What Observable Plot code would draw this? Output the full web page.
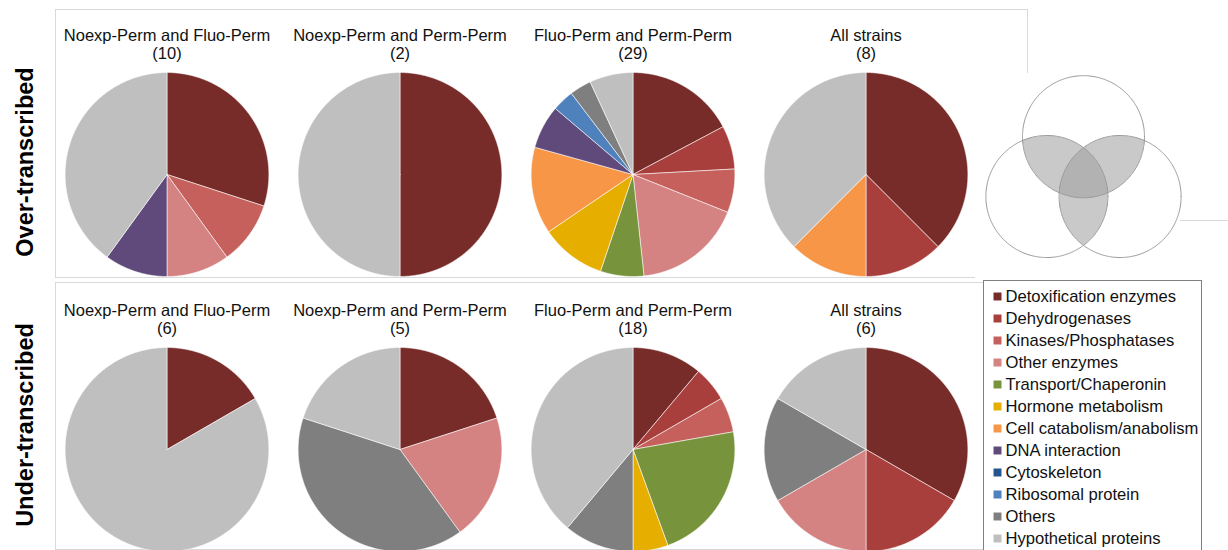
<!DOCTYPE html>
<html><head><meta charset="utf-8">
<script src="https://cdn.jsdelivr.net/npm/d3@7"></script>
<script src="https://cdn.jsdelivr.net/npm/@observablehq/plot@0.6"></script>
<style>
body{margin:0;background:#fff;font-family:"Liberation Sans",Arial,sans-serif;}
#root{position:relative;width:1228px;height:550px;overflow:hidden;background:#fff;}
.abs{position:absolute;}
.frame{position:absolute;border:1px solid #d9d9d9;box-sizing:border-box;}
.rowlabel{position:absolute;font-weight:bold;font-size:23.5px;white-space:nowrap;color:#000;transform:translate(-50%,-50%) rotate(-90deg);}
</style></head><body><div id="root"></div>
<script>
// ---- data ----
const categories = ["Detoxification enzymes","Dehydrogenases","Kinases/Phosphatases","Other enzymes","Transport/Chaperonin","Hormone metabolism","Cell catabolism/anabolism","DNA interaction","Cytoskeleton","Ribosomal protein","Others","Hypothetical proteins"];
const colors = ["#772C2A","#A83F3C","#C5605C","#D58282","#77933C","#E6AF00","#F79646","#604A7B","#23558F","#4F81BD","#7F7F7F","#BFBFBF"];
const groupNames = ["Noexp-Perm and Fluo-Perm","Noexp-Perm and Perm-Perm","Fluo-Perm and Perm-Perm","All strains"];
const rowLabels = ["Over-transcribed","Under-transcribed"];
// counts per category (legend order) for each group
const overCounts = [
  [3,0,1,1,0,0,0,1,0,0,0,4],
  [1,0,0,0,0,0,0,0,0,0,0,1],
  [5,2,2,5,2,3,4,2,0,1,1,2],
  [3,1,0,0,0,0,1,0,0,0,0,3]
];
const underCounts = [
  [1,0,0,0,0,0,0,0,0,0,0,5],
  [1,0,0,1,0,0,0,0,0,0,2,1],
  [2,1,1,0,4,1,0,0,0,0,2,7],
  [2,1,0,1,0,0,0,0,0,0,1,1]
];
const vennSets = [{name:"A",cx:0,cy:0.98},{name:"B",cx:-0.6,cy:0},{name:"C",cx:0.6,cy:0}];
const vennShades = ["#ffffff","#ffffff","#c9c9c9","#b2b2b2"];

// ---- layout ----
const root = document.getElementById("root");
function addDiv(cls, style, html){const d=document.createElement("div");d.className=cls;Object.assign(d.style,style);if(html!=null)d.textContent=html;root.appendChild(d);return d;}

addDiv("frame",{left:"55px",top:"9px",width:"973px",height:"269px"});
addDiv("frame",{left:"55px",top:"282px",width:"973px",height:"268px"});
addDiv("rowlabel",{left:"25px",top:"162px"},rowLabels[0]);
addDiv("rowlabel",{left:"25px",top:"425px"},rowLabels[1]);

// ---- pies ----
const slices = [], titles = [];
[overCounts, underCounts].forEach((rowCounts, ri) => rowCounts.forEach((counts, gi) => {
  const total = d3.sum(counts);
  titles.push({row: rowLabels[ri], col: gi, text: `${groupNames[gi]}\n(${total})`});
  let cum = 0;
  counts.forEach((c, ci) => {
    if (!c) return;
    const a0 = cum / total * 2 * Math.PI, a1 = (cum + c) / total * 2 * Math.PI;
    cum += c;
    const base = {id: `${ri}-${gi}-${ci}`, row: rowLabels[ri], col: gi, cat: categories[ci]};
    const n = Math.max(2, Math.ceil((a1 - a0) / (Math.PI / 360)));
    slices.push({...base, x: 0, y: 0});
    for (let k = 0; k <= n; k++) { const a = a0 + (a1 - a0) * k / n; slices.push({...base, x: Math.sin(a), y: Math.cos(a)}); }
    slices.push({...base, x: 0, y: 0});
  });
}));

const pies = Plot.plot({
  width: 933, height: 550,
  marginTop: 0, marginBottom: 0, marginLeft: 0, marginRight: 0,
  x: {axis: null, domain: [-1.1435, 1.1435]},
  y: {axis: null, domain: [-0.99, 1.706]},
  fx: {axis: null, padding: 0, domain: [0,1,2,3]},
  fy: {axis: null, padding: 0, domain: rowLabels},
  color: {domain: categories, range: colors},
  style: {fontFamily: '"Liberation Sans", Arial, sans-serif', background: "transparent", overflow: "visible"},
  marks: [
    Plot.line(slices, {x: "x", y: "y", z: "id", fill: "cat", stroke: "#ffffff", strokeWidth: 0.7, strokeOpacity: 0.8, fx: "col", fy: "row"}),
    Plot.text(titles, {fx: "col", fy: "row", text: "text", frameAnchor: "top", dy: 44, lineAnchor: "middle", lineHeight: 1.1, fontSize: 16.5, fill: "#111"})
  ]
});
pies.style.position = "absolute"; pies.style.left = "49px"; pies.style.top = "0px";
root.appendChild(pies);

// ---- venn ----
const vennPts = [];
vennSets.forEach(s => { for (let k = 0; k <= 360; k++) { const a = k * Math.PI / 180; vennPts.push({name: s.name, x: s.cx + Math.cos(a), y: s.cy + Math.sin(a)}); } });
const venn = Plot.plot({
  width: 253, height: 206,
  marginTop: 0, marginBottom: 0, marginLeft: 0, marginRight: 0,
  x: {axis: null, domain: [-1.77, 2.377]},
  y: {axis: null, domain: [-1.36, 2.016]},
  color: {type: "identity"},
  style: {background: "#fff"},
  marks: [
    Plot.raster({x1: -1.77, x2: 2.377, y1: -1.36, y2: 2.016, pixelSize: 1,
      fill: (x, y) => vennShades[vennSets.filter(s => (x - s.cx) ** 2 + (y - s.cy) ** 2 <= 1).length]}),
    Plot.line(vennPts, {x: "x", y: "y", z: "name", stroke: "#999", strokeWidth: 1})
  ]
});
venn.style.position = "absolute"; venn.style.left = "975px"; venn.style.top = "73px";
root.appendChild(venn);
addDiv("abs",{left:"1180px",top:"220px",width:"48px",height:"1px",background:"#d9d9d9"});

// ---- legend ----
const legBox = addDiv("abs",{left:"983px",top:"280px",width:"219px",height:"290px",border:"1px solid #808080",background:"#fff",boxSizing:"border-box"});
const legend = Plot.plot({
  width: 217, height: 288,
  marginTop: 0, marginBottom: 0, marginLeft: 0, marginRight: 0,
  y: {type: "point", axis: null, padding: 0, domain: categories, range: [11, 260]},
  color: {domain: categories, range: colors},
  style: {fontFamily: '"Liberation Sans", Arial, sans-serif', background: "transparent"},
  marks: [
    Plot.dot(categories, {y: d => d, fill: d => d, symbol: "square", r: 4.5, frameAnchor: "left", dx: 13}),
    Plot.text(categories, {y: d => d, text: d => d, frameAnchor: "left", dx: 21, textAnchor: "start", fontSize: 16.6, fill: "#111"})
  ]
});
legBox.appendChild(legend);
</script>
</body></html>
